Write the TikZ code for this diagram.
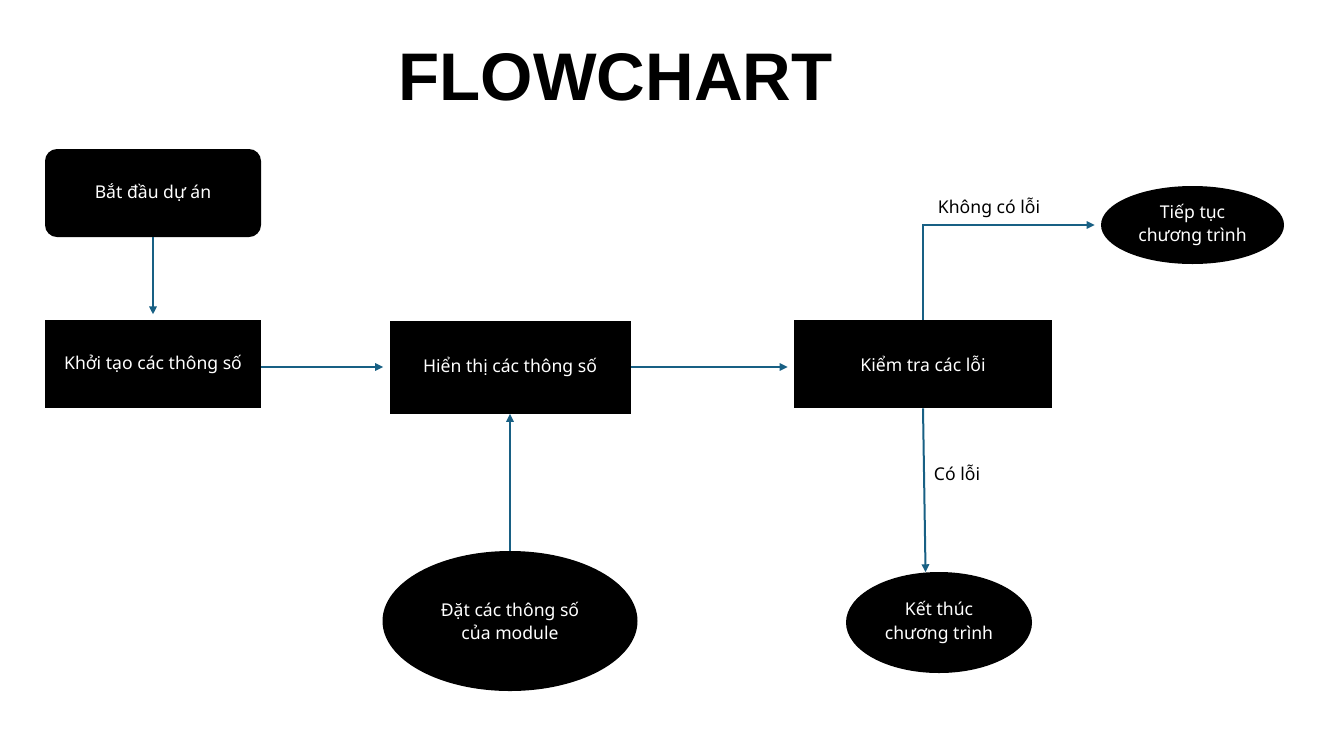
\documentclass[tikz,border=0pt]{standalone}
\usepackage{fontspec}
\setmainfont{Noto Sans}
\newfontfamily\titlefont{Liberation Sans}
\usetikzlibrary{shapes.geometric,arrows.meta,calc}
\definecolor{arrowblue}{RGB}{24,96,132}
\begin{document}
\begin{tikzpicture}[x=0.75pt,y=-0.75pt,
  box/.style={draw=none,fill=black,text=white,inner sep=0pt,font=\fontsize{13.2}{17.5}\selectfont},
  oval/.style={ellipse,draw=none,fill=black,text=white,inner sep=0pt,align=center,font=\fontsize{13.2}{17.5}\selectfont},
  conn/.style={draw=arrowblue,line width=1.5pt,-{Triangle[length=6pt,width=5.5pt]}},
  lbl/.style={text=black,inner sep=0pt,font=\fontsize{13.2}{17.5}\selectfont}]
\useasboundingbox (0,0) rectangle (1327,747);
\node[inner sep=0pt,font=\titlefont\bfseries\fontsize{50.5}{56}\selectfont] (title) at (615.5,77) {FLOWCHART};
\node[box,rounded corners=9pt,minimum width=162pt,minimum height=66pt] (start) at (153,193) {Bắt đầu dự án};
\node[box,minimum width=162pt,minimum height=66pt] (init) at (153,364) {Khởi tạo các thông số};
\node[box,minimum width=180.75pt,minimum height=69.75pt] (show) at (510,367) {Hiển thị các thông số};
\node[box,minimum width=193.5pt,minimum height=66pt] (check) at (923,364) {Kiểm tra các lỗi};
\node[oval,minimum width=191.25pt,minimum height=105pt] (set) at (510,621) {Đặt các thông số\\của module};
\node[oval,minimum width=137.25pt,minimum height=58.5pt] (cont) at (1192.5,225) {Tiếp tục\\chương trình};
\node[oval,minimum width=139.5pt,minimum height=75.75pt] (end) at (939,622.5) {Kết thúc\\chương trình};
\draw[conn,shorten >=4pt] (start) -- (init);
\draw[conn,shorten >=4.5pt] (init.east |- show.west) -- (show.west);
\draw[conn,shorten >=4.5pt] (show.east) -- (show.east -| check.west);
\draw[conn] (set) -- (show);
\draw[conn,shorten >=4.5pt] (check.north) -- (check.north |- cont.west) -- (cont.west);
\draw[conn] (check.south) -- (end.105);
\node[lbl] (nolbl) at (989,208) {Không có lỗi};
\node[lbl] (yeslbl) at (957,473) {Có lỗi};
\end{tikzpicture}
\end{document}
